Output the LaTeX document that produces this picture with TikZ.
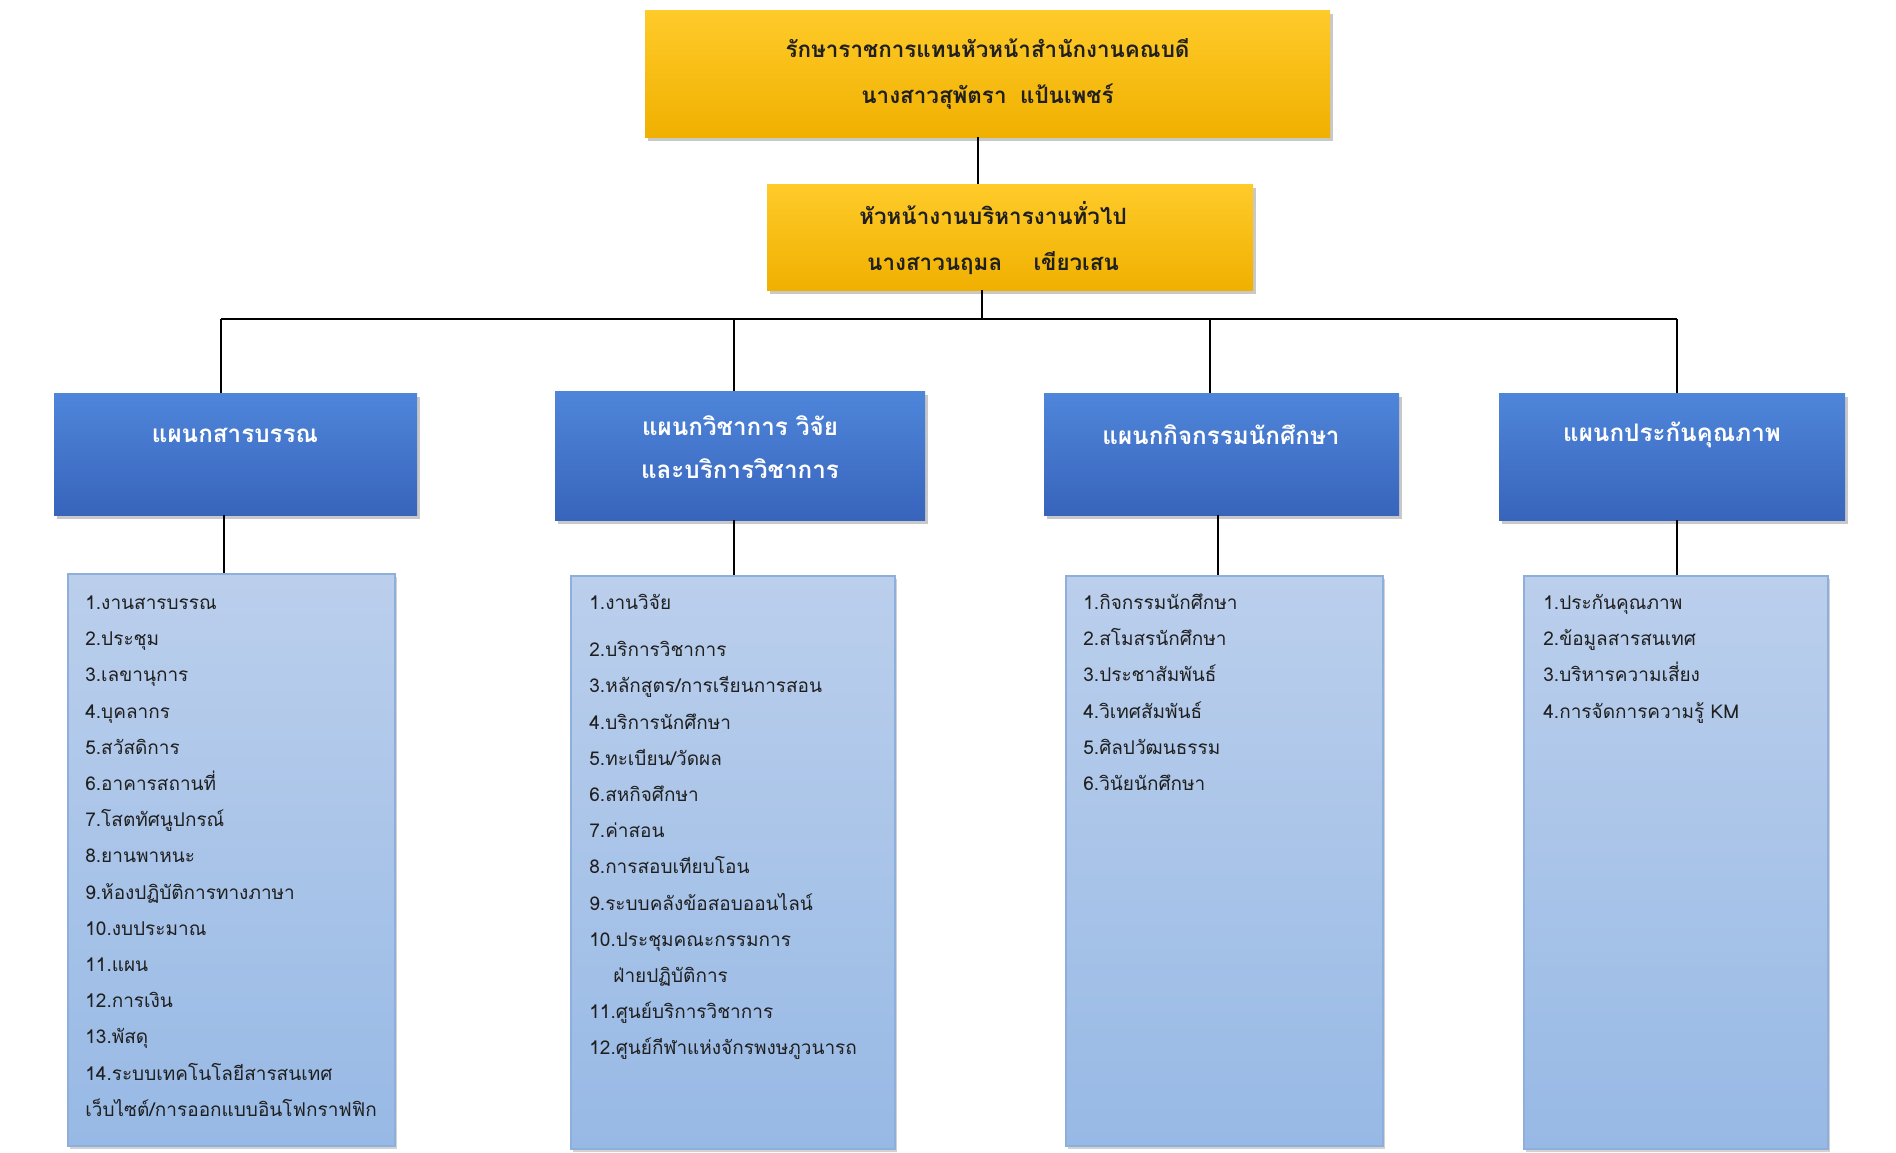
\documentclass[tikz,border=0pt]{standalone}
\usepackage{fontspec}
\newfontfamily\thaifont[Script=Thai]{Loma}
\usetikzlibrary{shadows}
\definecolor{goldtop}{HTML}{FFCB2A}
\definecolor{goldbot}{HTML}{F0B000}
\definecolor{bluetop}{HTML}{4E86DA}
\definecolor{bluebot}{HTML}{3864BC}
\definecolor{listtop}{HTML}{BBCFEC}
\definecolor{listbot}{HTML}{97B9E5}
\definecolor{listdraw}{HTML}{8EAEDC}
\definecolor{txt}{HTML}{1F1F1F}
\newcommand{\firstln}{\rule{0pt}{12pt}}
\tikzset{
  headbox/.style={rectangle, inner sep=0pt, top color=goldtop, bottom color=goldbot,
    drop shadow={shadow xshift=1.5pt, shadow yshift=-2pt, opacity=0.3, fill=black!70},
    align=center, text=txt, font=\thaifont\bfseries\fontsize{11.2}{23}\selectfont},
  headtext/.style={inner sep=0pt, align=center, text=txt,
    font=\thaifont\bfseries\fontsize{11.2}{23}\selectfont},
  deptbox/.style={rectangle, inner sep=0pt, top color=bluetop, bottom color=bluebot,
    drop shadow={shadow xshift=1.5pt, shadow yshift=-2pt, opacity=0.3, fill=black!70}},
  depttext/.style={align=center, inner sep=0pt, text=white,
    font=\thaifont\bfseries\fontsize{12.1}{21.5}\selectfont},
  listbox/.style={rectangle, inner sep=0pt, top color=listtop, bottom color=listbot,
    draw=listdraw, line width=0.6pt,
    drop shadow={shadow xshift=1pt, shadow yshift=-1.5pt, opacity=0.25, fill=black!70}},
  listtext/.style={align=left, inner sep=0pt, text=txt, anchor=north west,
    font=\thaifont\fontsize{9.5}{18.1}\selectfont},
  conn/.style={draw=black, line width=1.4pt}
}
\begin{document}
\begin{tikzpicture}[x=0.5pt, y=-0.5pt]
\useasboundingbox[fill=white] (0,0) rectangle (1896,1152);

% top boxes
\node[headbox, minimum width=342.5pt, minimum height=63.5pt] (top) at (987.5,73.5)
  {รักษาราชการแทนหัวหน้าสำนักงานคณบดี\\นางสาวสุพัตรา\hspace{0.6em}แป้นเพชร์};
\node[headbox, minimum width=243pt, minimum height=53pt] (gen) at (1010,237) {};
\node[headtext] (gent) at (993,238)
  {หัวหน้างานบริหารงานทั่วไป\\นางสาวนฤมล\hspace{1.4em}เขียวเสน};

% department boxes
\node[deptbox, minimum width=181.5pt, minimum height=61pt] (d1) at (235.5,454) {};
\node[deptbox, minimum width=185pt, minimum height=64.5pt] (d2) at (740,455.5) {};
\node[deptbox, minimum width=177.5pt, minimum height=61pt] (d3) at (1221.5,454) {};
\node[deptbox, minimum width=173pt, minimum height=63.5pt] (d4) at (1672,456.5) {};
\node[depttext] (d1t) at (235,435) {แผนกสารบรรณ};
\node[depttext] (d2t) at (740,447.5) {แผนกวิชาการ วิจัย\\และบริการวิชาการ};
\node[depttext] (d3t) at (1221,435) {แผนกกิจกรรมนักศึกษา};
\node[depttext] (d4t) at (1672,435) {แผนกประกันคุณภาพ};

% list boxes
\node[listbox, minimum width=163.5pt, minimum height=286pt] (l1) at (231.5,860) {};
\node[listbox, minimum width=162pt, minimum height=286.5pt] (l2) at (733,862.5) {};
\node[listbox, minimum width=158.5pt, minimum height=285pt] (l3) at (1224.5,861) {};
\node[listbox, minimum width=152pt, minimum height=286.5pt] (l4) at (1676,862.5) {};

\node[listtext] (t1) at (85,585) {\firstln 1.งานสารบรรณ\\2.ประชุม\\3.เลขานุการ\\4.บุคลากร\\5.สวัสดิการ\\6.อาคารสถานที่\\7.โสตทัศนูปกรณ์\\8.ยานพาหนะ\\9.ห้องปฏิบัติการทางภาษา\\10.งบประมาณ\\11.แผน\\12.การเงิน\\13.พัสดุ\\14.ระบบเทคโนโลยีสารสนเทศ\\เว็บไซต์/การออกแบบอินโฟกราฟฟิก};
\node[listtext] (t2) at (589,585) {\firstln 1.งานวิจัย\\[5.5pt]2.บริการวิชาการ\\3.หลักสูตร/การเรียนการสอน\\4.บริการนักศึกษา\\5.ทะเบียน/วัดผล\\6.สหกิจศึกษา\\7.ค่าสอน\\8.การสอบเทียบโอน\\9.ระบบคลังข้อสอบออนไลน์\\10.ประชุมคณะกรรมการ\\\hspace*{12pt}ฝ่ายปฏิบัติการ\\11.ศูนย์บริการวิชาการ\\12.ศูนย์กีฬาแห่งจักรพงษภูวนารถ};
\node[listtext] (t3) at (1083,585) {\firstln 1.กิจกรรมนักศึกษา\\2.สโมสรนักศึกษา\\3.ประชาสัมพันธ์\\4.วิเทศสัมพันธ์\\5.ศิลปวัฒนธรรม\\6.วินัยนักศึกษา};
\node[listtext] (t4) at (1543,585) {\firstln 1.ประกันคุณภาพ\\2.ข้อมูลสารสนเทศ\\3.บริหารความเสี่ยง\\4.การจัดการความรู้ KM};

% connectors
\coordinate (j0) at (978,0);
\coordinate (bus) at (982,319);
\coordinate (b1) at (221,319);
\coordinate (b2) at (734,319);
\coordinate (b3) at (1210,319);
\coordinate (b4) at (1677,319);
\coordinate (c1) at (224,0);
\coordinate (c2) at (734,0);
\coordinate (c3) at (1218,0);
\coordinate (c4) at (1677,0);

\draw[conn] (top.south -| j0) -- (gen.north -| j0);
\draw[conn] (gen.south -| bus) -- (bus);
\draw[conn] (b1) -- (b4);
\draw[conn] (b1) -- (d1.north -| b1);
\draw[conn] (b2) -- (d2.north -| b2);
\draw[conn] (b3) -- (d3.north -| b3);
\draw[conn] (b4) -- (d4.north -| b4);
\draw[conn] (d1.south -| c1) -- (l1.north -| c1);
\draw[conn] (d2.south -| c2) -- (l2.north -| c2);
\draw[conn] (d3.south -| c3) -- (l3.north -| c3);
\draw[conn] (d4.south -| c4) -- (l4.north -| c4);
\end{tikzpicture}
\end{document}
